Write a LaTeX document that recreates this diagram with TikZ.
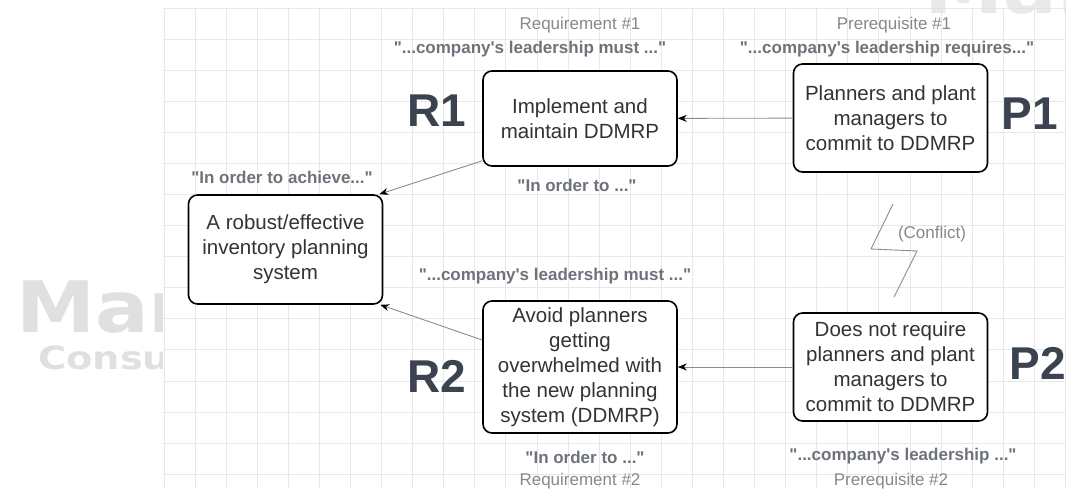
\documentclass[tikz,border=0pt]{standalone}
\usepackage{fontspec}
\setmainfont{Liberation Sans}[Ligatures=TeXOff]
\newfontfamily\markfont{DejaVu Sans}
\usetikzlibrary{arrows.meta,positioning}

\definecolor{boxtext}{HTML}{333333}
\definecolor{quotecol}{HTML}{6E737B}
\definecolor{softgray}{HTML}{888888}
\definecolor{tagcol}{HTML}{3B4350}
\definecolor{gridcol}{HTML}{E8E8E8}
\definecolor{markcol}{HTML}{E0E0E0}
\definecolor{linkcol}{HTML}{8C8C8C}

\begin{document}
\begin{tikzpicture}[x=1pt,y=-1pt,
    box/.style={draw=black,line width=1.6pt,rounded corners=9pt,fill=white,
      minimum width=194pt,align=center,text=boxtext,inner sep=2pt,
      font=\fontsize{20.5}{25}\selectfont},
    tag/.style={text=tagcol,font=\fontsize{46}{46}\selectfont\bfseries},
    quote/.style={text=quotecol,font=\fontsize{17}{19}\selectfont\bfseries},
    caption/.style={text=softgray,font=\fontsize{17}{19}\selectfont},
    link/.style={draw=linkcol,line width=0.9pt,
      -{Stealth[black,length=9pt,width=7pt]}}]
  \useasboundingbox (0,0) rectangle (1066,488);

  % watermark behind the grid
  \node[anchor=base west,inner sep=0pt,text=markcol,
        font=\markfont\fontsize{71}{71}\selectfont\bfseries] (markbig) at (16,332)
    {\scalebox{1.12}[1]{Mar}};
  \node[anchor=base west,inner sep=0pt,text=markcol,
        font=\markfont\fontsize{32}{32}\selectfont\bfseries] (marksub) at (38,369)
    {\scalebox{1.2}[1]{Consu}};

  % grid paper
  \fill[white] (163,8) rectangle (1066,488);
  \foreach \k in {0,...,29}
    \draw[gridcol,line width=0.8pt] ({164+31.08*\k},8) -- ({164+31.08*\k},488);
  \foreach \k in {0,...,15}
    \draw[gridcol,line width=0.8pt] (163,{8+31.08*\k}) -- (1066,{8+31.08*\k});
  \node[anchor=base west,inner sep=0pt,text=markcol,opacity=0.7,
        font=\markfont\fontsize{71}{71}\selectfont\bfseries] (markcut) at (924,13)
    {\scalebox{1.12}[1]{Mar}};

  % boxes
  \node[box,minimum height=109pt] (goal) at (285.5,249.5)
    {A robust/effective\\inventory planning\\system};
  \node[box,minimum height=95pt]  (req1) at (580,118.5)
    {Implement and\\maintain DDMRP};
  \node[box,minimum height=108pt] (pre1) at (890.5,118)
    {Planners and plant\\managers to\\commit to DDMRP};
  \node[box,minimum height=132pt] (req2) at (580,367)
    {Avoid planners\\getting\\overwhelmed with\\the new planning\\system (DDMRP)};
  \node[box,minimum height=108pt] (pre2) at (890.5,367)
    {Does not require\\planners and plant\\managers to\\commit to DDMRP};

  % big tags
  \node[tag] (tagr1) at (437,111) {R1};
  \node[tag] (tagr2) at (437,376) {R2};
  \node[tag] (tagp1) at (1030,114) {P1};
  \node[tag] (tagp2) at (1038,363) {P2};

  % captions
  \node[caption] (capr1) at (580,25) {Requirement \#1};
  \node[quote]   (qr1)   at (530,49) {"...company's leadership must ..."};
  \node[caption] (capp1) at (894,25) {Prerequisite \#1};
  \node[quote]   (qp1)   at (887,49) {"...company's leadership requires..."};
  \node[quote]   (qord1) at (577,185) {"In order to ..."};
  \node[quote]   (qgoal) at (282,177) {"In order to achieve..."};
  \node[quote]   (qr2)   at (555,276) {"...company's leadership must ..."};
  \node[quote]   (qord2) at (585,457) {"In order to ..."};
  \node[caption] (capr2) at (580,481) {Requirement \#2};
  \node[quote]   (qp2)   at (903,456) {"...company's leadership ..."};
  \node[caption] (capp2) at (891,481) {Prerequisite \#2};
  \node[caption] (clash) at (932,234) {(Conflict)};

  % conflict mark
  \draw[linkcol,line width=0.9pt] (893,204) -- (871,249) -- (917,251) -- (894,297);

  % links
  \draw[link] (pre1) -- (req1);
  \draw[link] (pre2) -- (req2);
  \draw[link] ([yshift=6pt]req1.south west) -- ([xshift=-4pt]goal.north east);
  \draw[link] ([yshift=27pt]req2.west) -- ([xshift=-3pt]goal.south east);
\end{tikzpicture}
\end{document}
